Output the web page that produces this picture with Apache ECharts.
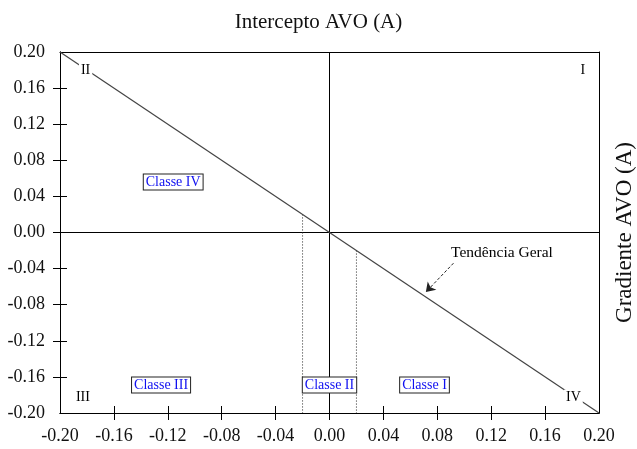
<!DOCTYPE html>
<html>
<head>
<meta charset="utf-8">
<script src="https://cdn.jsdelivr.net/npm/echarts@6/dist/echarts.min.js"></script>
<style>
  html, body { margin: 0; padding: 0; background: #fff; }
  #chart { width: 637px; height: 449px; }
</style>
</head>
<body>
<div id="chart"></div>
<script>
// Axis values (both axes share the same scale)
const axisMin = -0.2;
const axisMax = 0.2;
const axisStep = 0.04;
const tickLabelValues = [-0.2, -0.16, -0.12, -0.08, -0.04, 0, 0.04, 0.08, 0.12, 0.16, 0.2];
const tickMarkValues = [-0.16, -0.12, -0.08, -0.04, 0, 0.04, 0.08, 0.12, 0.16];

// Reference lines
const trendLine = [[-0.2, 0.2], [0.2, -0.2]];
const zeroHorizontal = [[-0.2, 0], [0.2, 0]];
const zeroVertical = [[0, -0.2], [0, 0.2]];
const classIIBoundLeft = [[-0.02, 0.02], [-0.02, -0.2]];
const classIIBoundRight = [[0.02, -0.02], [0.02, -0.2]];

// Quadrant numerals
const quadrantNames = ['I', 'II', 'III', 'IV'];
const quadrantPoints = [[0.188, 0.18], [-0.181, 0.18], [-0.183, -0.183], [0.181, -0.183]];

// AVO classes
const classNames = ['Classe IV', 'Classe III', 'Classe II', 'Classe I'];
const classPoints = [[-0.116, 0.056], [-0.125, -0.169], [0.0, -0.169], [0.0705, -0.169]];

// "Tendência Geral" annotation
const trendLabel = 'Tendência Geral';
const trendLabelPoint = [0.128, -0.023];
const trendArrow = [[0.092, -0.034], [0.0715, -0.066]];

const serif = "'Liberation Serif', 'Times New Roman', serif";
const fmt = v => v.toFixed(2);

const chart = echarts.init(document.getElementById('chart'), null, { renderer: 'canvas' });

const baseAxis = {
  min: axisMin, max: axisMax, interval: axisStep,
  splitLine: { show: false },
  axisLine: { onZero: false, lineStyle: { color: '#000', width: 1 } }
};

const hiddenMark = { color: '#fff', opacity: 1 };

chart.setOption({
  animation: false,
  backgroundColor: '#fff',
  title: {
    text: 'Intercepto AVO (A)',
    left: 'center',
    top: 7,
    textStyle: { fontFamily: serif, fontSize: 21, fontWeight: 'normal', color: '#111' }
  },
  grid: { left: 60, right: 38, top: 52, bottom: 36, containLabel: false, outerBoundsMode: 'none' },
  xAxis: [
    Object.assign({}, baseAxis, {
      type: 'value', position: 'bottom',
      axisTick: { show: true, inside: false, length: 7, customValues: tickMarkValues, lineStyle: { color: '#000' } },
      axisLabel: { show: true, margin: 14, customValues: tickLabelValues, formatter: fmt,
        fontFamily: serif, fontSize: 18, color: '#111' }
    }),
    Object.assign({}, baseAxis, {
      type: 'value', position: 'bottom',
      axisTick: { show: true, inside: true, length: 7, customValues: tickMarkValues, lineStyle: { color: '#000' } },
      axisLabel: { show: false }
    }),
    Object.assign({}, baseAxis, {
      type: 'value', position: 'top',
      axisTick: { show: false }, axisLabel: { show: false }
    })
  ],
  yAxis: [
    Object.assign({}, baseAxis, {
      type: 'value', position: 'left',
      axisTick: { show: true, inside: false, length: 7, customValues: tickMarkValues, lineStyle: { color: '#000' } },
      axisLabel: { show: true, margin: 15, customValues: tickLabelValues, formatter: fmt,
        fontFamily: serif, fontSize: 18, color: '#111' }
    }),
    Object.assign({}, baseAxis, {
      type: 'value', position: 'left',
      axisTick: { show: true, inside: true, length: 7, customValues: tickMarkValues, lineStyle: { color: '#000' } },
      axisLabel: { show: false }
    }),
    Object.assign({}, baseAxis, {
      type: 'value', position: 'right',
      axisTick: { show: false }, axisLabel: { show: false },
      name: 'Gradiente AVO (A)',
      nameLocation: 'middle',
      nameRotate: 90,
      nameGap: 14,
      nameTextStyle: { fontFamily: serif, fontSize: 23, color: '#111' }
    })
  ],
  series: [
    {
      type: 'line', data: zeroHorizontal, symbol: 'none', silent: true, z: 2,
      lineStyle: { color: '#000', width: 1 }
    },
    {
      type: 'line', data: zeroVertical, symbol: 'none', silent: true, z: 2,
      lineStyle: { color: '#000', width: 1 }
    },
    {
      type: 'line', data: classIIBoundLeft, symbol: 'none', silent: true, z: 2,
      lineStyle: { color: '#222', width: 1, type: [1, 2] }
    },
    {
      type: 'line', data: classIIBoundRight, symbol: 'none', silent: true, z: 2,
      lineStyle: { color: '#222', width: 1, type: [1, 2] }
    },
    {
      type: 'line', data: trendLine, symbol: 'none', silent: true, z: 3,
      lineStyle: { color: '#444', width: 1.2 }
    },
    {
      type: 'lines', coordinateSystem: 'cartesian2d', silent: true, z: 4,
      symbol: ['none', 'arrow'], symbolSize: 9,
      lineStyle: { color: '#222', width: 1, type: [3, 2], opacity: 1 },
      data: [{ coords: trendArrow }]
    },
    {
      type: 'scatter', silent: true, z: 6,
      symbolSize: 0, itemStyle: hiddenMark,
      data: quadrantPoints.map((p, i) => ({ value: p, name: quadrantNames[i] })),
      label: {
        show: true, position: 'inside', formatter: '{b}', opacity: 1,
        fontFamily: serif, fontSize: 14, color: '#000', textBorderWidth: 0,
        backgroundColor: '#fff', padding: [1, 2]
      }
    },
    {
      type: 'scatter', silent: true, z: 6,
      symbolSize: 0, itemStyle: hiddenMark,
      data: classPoints.map((p, i) => ({ value: p, name: classNames[i] })),
      label: {
        show: true, position: 'inside', formatter: '{b}', opacity: 1,
        fontFamily: serif, fontSize: 14, color: '#1010f0', textBorderWidth: 0,
        backgroundColor: '#fff', borderColor: '#222', borderWidth: 1,
        padding: [1, 2, 0, 2]
      }
    },
    {
      type: 'scatter', silent: true, z: 6,
      symbolSize: 0, itemStyle: hiddenMark,
      data: [{ value: trendLabelPoint, name: trendLabel }],
      label: {
        show: true, position: 'inside', formatter: '{b}', opacity: 1,
        fontFamily: serif, fontSize: 15.5, color: '#000', textBorderWidth: 0
      }
    }
  ]
});
</script>
</body>
</html>
